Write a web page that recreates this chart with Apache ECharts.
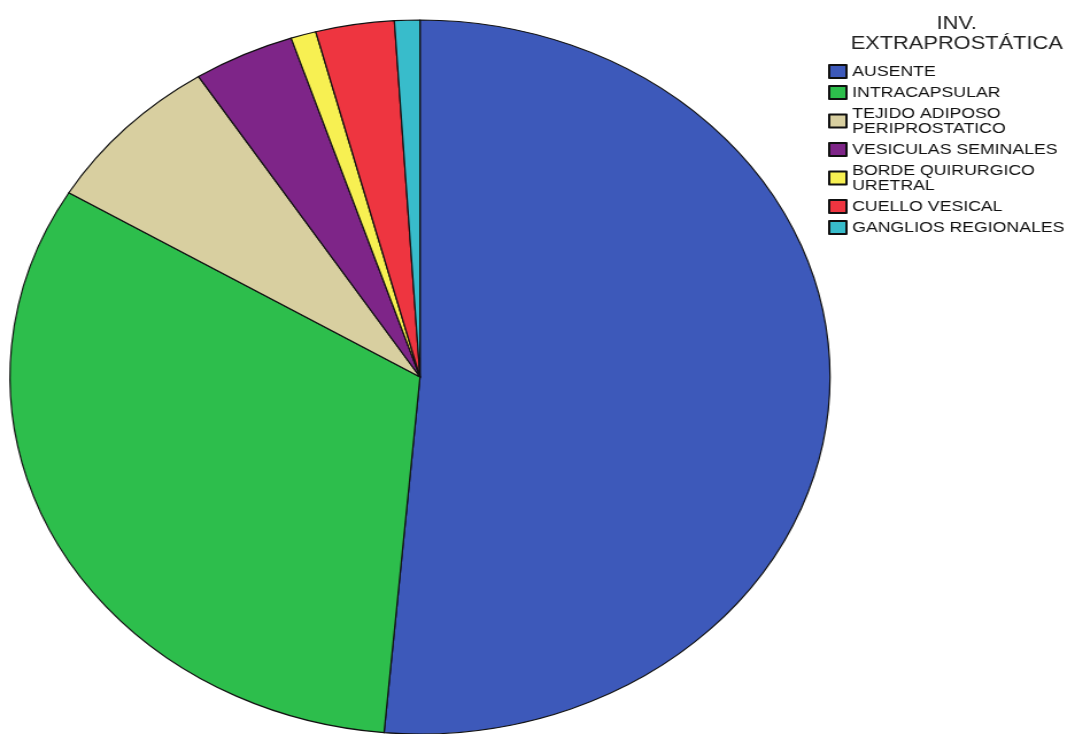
<!DOCTYPE html>
<html>
<head>
<meta charset="utf-8">
<script src="https://cdn.jsdelivr.net/npm/echarts@6/dist/echarts.min.js"></script>
<style>
  html, body { margin: 0; padding: 0; background: #fff; overflow: hidden; }
  /* el original está estirado en horizontal: se dibuja estrecho y se escala */
  #chart { width: 932px; height: 734px; transform: scaleX(1.1485); transform-origin: 0 0; }
</style>
</head>
<body>
<div id="chart"></div>
<script>
// categorías y porcentajes
const categories = [
  'AUSENTE',
  'INTRACAPSULAR',
  'TEJIDO ADIPOSO\nPERIPROSTATICO',
  'VESICULAS SEMINALES',
  'BORDE QUIRURGICO\nURETRAL',
  'CUELLO VESICAL',
  'GANGLIOS REGIONALES'
];
const values = [51.5, 32.3, 7.3, 4.0, 1.0, 3.1, 1.0];
const colors = ['#3D59BA', '#2DBE4C', '#D8CFA0', '#7E2588', '#F7F052', '#EE3540', '#38BCCB'];

const chart = echarts.init(document.getElementById('chart'));

const option = {
  animation: false,
  textStyle: { fontFamily: '"Liberation Sans", Arial, sans-serif' },
  title: {
    text: 'INV.\nEXTRAPROSTÁTICA',
    left: 828,
    top: 9,
    textAlign: 'center',
    textStyle: {
      fontSize: 19,
      fontWeight: 'normal',
      color: '#222',
      lineHeight: 20,
      fontFamily: '"Liberation Sans", Arial, sans-serif'
    }
  },
  legend: {
    orient: 'vertical',
    left: 721,
    top: 64,
    padding: 0,
    itemWidth: 15,
    itemHeight: 13,
    itemGap: 6,
    icon: 'rect',
    selectedMode: false,
    data: categories,
    textStyle: {
      fontSize: 15.4,
      lineHeight: 15,
      color: '#111',
      fontFamily: '"Liberation Sans", Arial, sans-serif'
    }
  },
  series: [
    {
      type: 'pie',
      center: [365.7, 377],
      radius: 357,
      startAngle: 90,
      clockwise: true,
      label: { show: false },
      labelLine: { show: false },
      emphasis: { disabled: true },
      itemStyle: { borderColor: '#111', borderWidth: 1.2 },
      data: categories.map((name, i) => ({
        name,
        value: values[i],
        itemStyle: { color: colors[i] }
      }))
    }
  ]
};

chart.setOption(option);

window.addEventListener('resize', () => {
  chart.resize();
});
</script>
</body>
</html>
